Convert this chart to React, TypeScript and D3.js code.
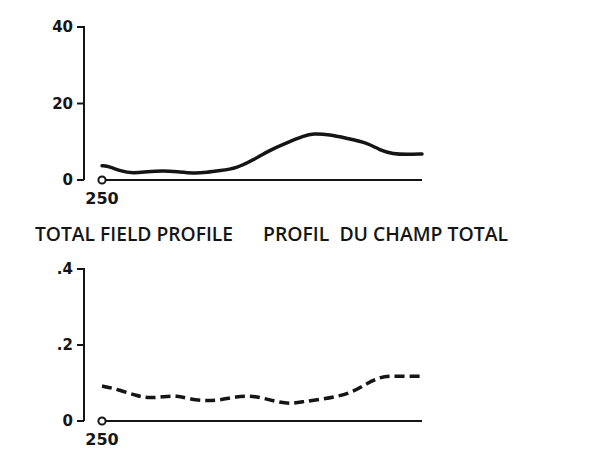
import React, { useEffect, useRef } from "react";
import * as d3 from "d3";

// field profile, top panel (solid)
const totalX = [250, 262, 278, 299, 320, 346, 367, 393, 414, 434, 460, 486, 512, 539, 565, 580, 606, 632, 664, 684, 705, 726, 750];
const totalY = [3.75, 3.5, 2.35, 1.74, 2.18, 2.44, 2.18, 1.74, 2.0, 2.44, 3.05, 5.2, 7.8, 9.76, 11.5, 12.2, 11.85, 10.9, 9.76, 7.8, 6.8, 6.7, 6.8];

// ratio profile, bottom panel (dashed)
const ratioX = [250, 278, 304, 325, 346, 367, 388, 414, 434, 460, 481, 502, 523, 544, 565, 591, 617, 643, 664, 684, 700, 721, 750];
const ratioY = [0.092, 0.082, 0.066, 0.06, 0.064, 0.067, 0.057, 0.053, 0.055, 0.064, 0.067, 0.06, 0.051, 0.045, 0.051, 0.057, 0.064, 0.077, 0.099, 0.115, 0.119, 0.117, 0.118];

const topTicks = [0, 20, 40];
const bottomTicks = [0, 0.2, 0.4];
const bottomTickLabels = ["0", ".2", ".4"];
const startLabel = "250";
const titleEn = "TOTAL FIELD PROFILE";
const titleFr = "PROFIL  DU CHAMP TOTAL";

const ink = "#151515";

export default function App() {
  const width = 595;
  const height = 462;
  const svgRef = useRef<SVGSVGElement>(null);

  useEffect(() => {
    const svg = d3.select(svgRef.current);
    svg.selectAll("*").remove();

    const x = d3.scaleLinear().domain([250, 750]).range([102, 422]);

    const panel = (
      yTop: number,
      yBottom: number,
      max: number,
      ticks: number[],
      labels: string[],
      xs: number[],
      ys: number[],
      dashed: boolean
    ) => {
      const y = d3.scaleLinear().domain([0, max]).range([yBottom, yTop]);
      const g = svg.append("g");

      // y axis
      g.append("line")
        .attr("x1", 84).attr("x2", 84)
        .attr("y1", y(max) - 1).attr("y2", y(0))
        .attr("stroke", ink).attr("stroke-width", 2);

      g.selectAll(".tick")
        .data(ticks)
        .enter()
        .append("line")
        .attr("x1", 77).attr("x2", 84)
        .attr("y1", (d) => y(d)).attr("y2", (d) => y(d))
        .attr("stroke", ink).attr("stroke-width", 2);

      g.selectAll(".tick-label")
        .data(ticks)
        .enter()
        .append("text")
        .attr("x", 73)
        .attr("y", (d) => y(d))
        .attr("dy", "0.36em")
        .attr("text-anchor", "end")
        .style("font-family", "DejaVu Sans")
        .style("font-weight", "bold")
        .style("font-size", "15px")
        .style("fill", ink)
        .text((_, i) => labels[i]);

      // baseline + origin circle
      g.append("line")
        .attr("x1", x(250) + 3.5).attr("x2", x(750))
        .attr("y1", y(0)).attr("y2", y(0))
        .attr("stroke", ink).attr("stroke-width", 2);

      g.append("circle")
        .attr("cx", x(250)).attr("cy", y(0)).attr("r", 3.6)
        .attr("fill", "white").attr("stroke", ink).attr("stroke-width", 2);

      g.append("text")
        .attr("x", x(250))
        .attr("y", y(0) + 24)
        .attr("text-anchor", "middle")
        .style("font-family", "DejaVu Sans")
        .style("font-weight", "bold")
        .style("font-size", "16px")
        .style("fill", ink)
        .text(startLabel);

      const line = d3
        .line<number>()
        .x((d) => x(d))
        .y((_, i) => y(ys[i]))
        .curve(d3.curveBasis);

      g.append("path")
        .attr("d", line(xs))
        .attr("fill", "none")
        .attr("stroke", ink)
        .attr("stroke-width", 3.5)
        .attr("stroke-linecap", dashed ? "butt" : "round")
        .attr("stroke-dasharray", dashed ? "10,5" : null);
    };

    panel(27, 180, 40, topTicks, topTicks.map(String), totalX, totalY, false);
    panel(269, 421, 0.4, bottomTicks, bottomTickLabels, ratioX, ratioY, true);

    svg.append("text")
      .attr("x", 35).attr("y", 241)
      .attr("textLength", 198)
      .attr("lengthAdjust", "spacingAndGlyphs")
      .style("font-family", "Open Sans")
      .style("font-weight", 600)
      .style("font-size", "19px")
      .style("fill", ink)
      .text(titleEn);

    svg.append("text")
      .attr("x", 263).attr("y", 241)
      .attr("textLength", 245)
      .attr("lengthAdjust", "spacingAndGlyphs")
      .style("white-space", "pre")
      .style("font-family", "Open Sans")
      .style("font-weight", 600)
      .style("font-size", "19px")
      .style("fill", ink)
      .text(titleFr);
  }, []);

  return (
    <svg
      ref={svgRef}
      width={width}
      height={height}
      style={{ position: "absolute", left: 0, top: 0, background: "white" }}
    ></svg>
  );
}
